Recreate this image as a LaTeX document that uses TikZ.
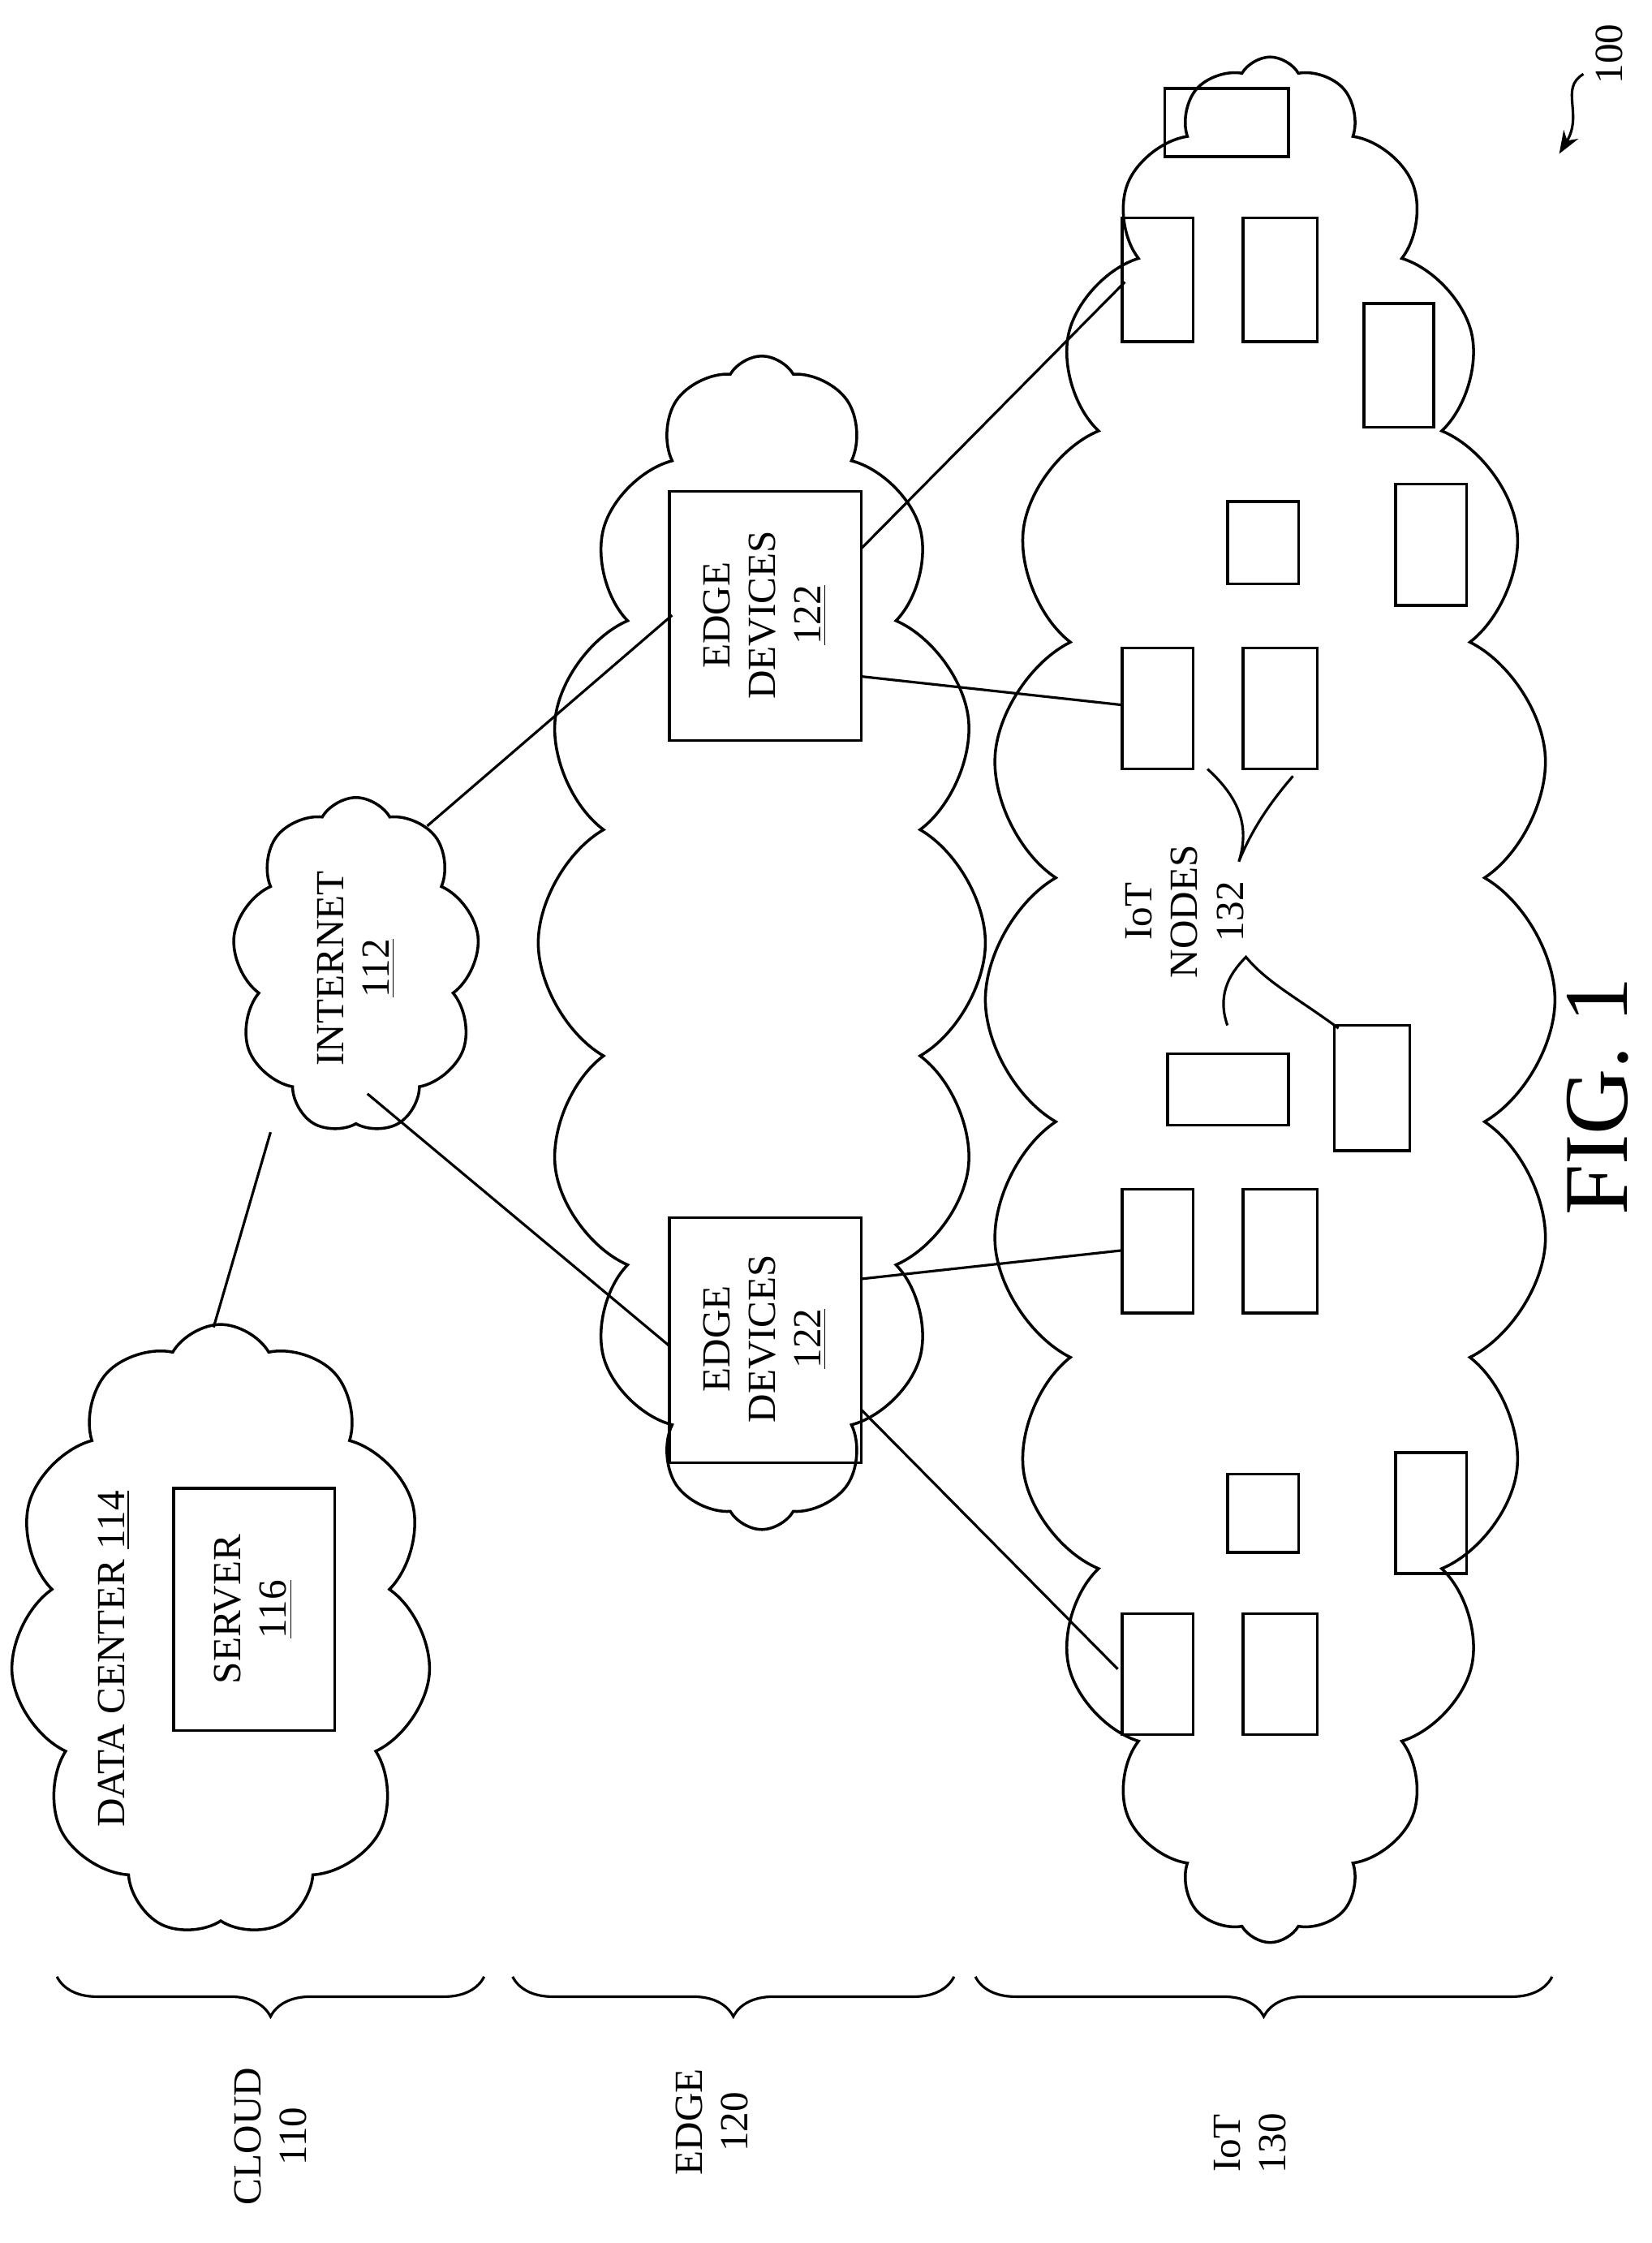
\documentclass[tikz,border=0pt]{standalone}
\usepackage{fontspec}
\setmainfont{Liberation Serif}
\usetikzlibrary{shapes.symbols,decorations.pathreplacing,arrows.meta}
\begin{document}
\begin{tikzpicture}[x=0.5pt,y=-0.5pt,
 cl/.style={draw,line width=1pt,cloud,cloud ignores aspect,cloud puff arc=120,inner sep=0pt},
 box/.style={draw,line width=1pt},
 lbl/.style={rotate=90,align=center,font=\fontsize{14}{16}\selectfont},
 ln/.style={line width=0.9pt}]
\useasboundingbox (0,0) rectangle (1160,1575);
% clouds
\node[cl,cloud puffs=11,minimum width=148pt,minimum height=215pt] (dc) at (155,1145) {};
\node[cl,cloud puffs=9,minimum width=87pt,minimum height=118pt] (inet) at (250,678) {};
\node[cl,cloud puffs=16,minimum width=157pt,minimum height=412pt] (ec) at (535,662) {};
\node[cl,cloud puffs=24,minimum width=200pt,minimum height=662pt] (ic) at (892,702) {};
% labels inside
\node[lbl] (dct) at (80,1165) {DATA CENTER \underline{114}};
\draw[box] (122,1045) rectangle (235,1215);
\node[lbl] (srv) at (178,1130) {SERVER\\\underline{116}};
\node[lbl] (it) at (250,680) {INTERNET\\\underline{112}};
\draw[box] (470,345) rectangle (605,520);
\node[lbl] (e1t) at (537,432) {EDGE\\DEVICES\\\underline{122}};
\draw[box] (470,855) rectangle (605,1027);
\node[lbl] (e2t) at (537,940) {EDGE\\DEVICES\\\underline{122}};
% IoT boxes
\foreach \a/\b/\c/\d in {818/62/905/110,788/153/838/240,873/153/925/240,958/213/1007/300,862/352/912/410,980/340/1030/425,788/455/838/540,873/455/925/540,820/740/905/790,937/720/990/808,788/835/838/922,873/835/925/922,862/1035/912/1090,980/1020/1030/1105,788/1133/838/1218,873/1133/925/1218}
 {\draw[box] (\a,\b) rectangle (\c,\d);}
\node[lbl] (iotn) at (832,640) {IoT\\NODES\\132};
% connectors
\draw[ln] (300,580) -- (472,432);
\draw[ln] (258,768) -- (470,945);
\draw[ln] (190,795) -- (150,932);
\draw[ln] (605,385) -- (790,198);
\draw[ln] (605,475) -- (788,495);
\draw[ln] (605,898) -- (788,878);
\draw[ln] (605,990) -- (785,1172);
% IoT nodes braces
\draw[ln] (848,540) .. controls (870,560) and (878,580) .. (870,605) .. controls (880,580) and (895,560) .. (908,545);
\draw[ln] (862,720) .. controls (855,700) and (862,685) .. (875,672) .. controls (890,690) and (910,700) .. (940,722);
% 100
\node[rotate=90,font=\fontsize{14}{16}\selectfont] (hund) at (1130,38) {100};
\draw[ln,-{Stealth[length=8pt]}] (1112,52) .. controls (1095,62) and (1112,80) .. (1095,108);
% bottom braces
\draw[ln,decorate,decoration={brace,amplitude=14pt,mirror}] (40,1388) -- (340,1388);
\draw[ln,decorate,decoration={brace,amplitude=14pt,mirror}] (360,1388) -- (670,1388);
\draw[ln,decorate,decoration={brace,amplitude=14pt,mirror}] (685,1388) -- (1090,1388);
\node[lbl] (c110) at (190,1500) {CLOUD\\110};
\node[lbl] (e120) at (500,1490) {EDGE\\120};
\node[lbl] (i130) at (878,1505) {IoT\\130};
\node[rotate=90,font=\fontsize{32}{36}\selectfont] (fig) at (1122,770) {FIG. 1};
\end{tikzpicture}
\end{document}
